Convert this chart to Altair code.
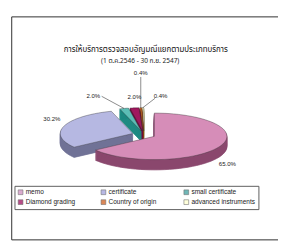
import altair as alt
import pandas as pd

# ---- data ----
categories = ["memo", "certificate", "small certificate", "Diamond grading",
              "Country of origin", "advanced instruments"]
shares = [65.0, 30.2, 2.0, 2.0, 0.4, 0.4]
label_texts = ["65.0%", "30.2%", "2.0%", "2.0%", "0.4%", "0.4%"]
title_text = "การให้บริการตรวจสอบอัญมณีแยกตามประเภทบริการ"
subtitle_text = "(1 ต.ค.2546 - 30 ก.ย. 2547)"

# ---- styles ----
top_colors = ["#D68DB8", "#B6B8E2", "#5CBDB5", "#A0185E", "#C9641E", "#F5F2C4"]
side_colors = ["#8A476D", "#707296", "#1F8A82", "#6C0E3E", "#8A4010", "#B8B48A"]
legend_colors = ["#CC88BB", "#9B9BDA", "#339999", "#990055", "#CC5511", "#FFFFCC"]

# ---- layout (page pixel coordinates) ----
W, H = 290, 244
CX, CY = 154, 135        # pie centre
RX, RY = 78, 25          # ellipse radii of top face
DEPTH = 11               # extrusion depth
EX = 12.5                # explode distance (x)
EY = EX * RY / RX
N = 60

label_nudge = {
    "memo": (9, 19),
    "certificate": (-13, -7),
    "small certificate": (-33, -13),
    "Diamond grading": (0, -12),
    "Country of origin": (0, -37),
    "advanced instruments": (19, -12),
}
leader_start = {
    "small certificate": (9, 0),
    "Country of origin": (0, 4),
    "advanced instruments": (-6, 2),
}

df = pd.DataFrame({
    "cat": categories,
    "value": shares,
    "idx": list(range(len(categories))),
    "txt": label_texts,
    "ndx": [label_nudge[c][0] for c in categories],
    "ndy": [label_nudge[c][1] for c in categories],
    "lsx": [leader_start.get(c, (0, 0))[0] for c in categories],
    "lsy": [leader_start.get(c, (0, 0))[1] for c in categories],
    "line": [c in leader_start for c in categories],
})

xs = alt.Scale(domain=[8, 8 + W], range=[0, W])
ys = alt.Scale(domain=[8, 8 + H], range=[0, H])


def geom(ch):
    return (ch.transform_joinaggregate(total="sum(value)")
            .transform_window(cum="sum(value)", sort=[alt.SortField("idx")], frame=[None, 0])
            .transform_calculate(a0="2*PI*(datum.cum-datum.value)/datum.total",
                                 a1="2*PI*datum.cum/datum.total")
            .transform_calculate(mid="(datum.a0+datum.a1)/2")
            .transform_calculate(ox=f"{CX}+{EX}*sin(datum.mid)",
                                 oy=f"{CY}-{EY}*cos(datum.mid)")
            .transform_calculate(ax=f"datum.ox+{RX}*sin(datum.mid)",
                                 ay=f"datum.oy-{RY}*cos(datum.mid)"))


def wedge(ch):
    return (ch.transform_calculate(step=f"sequence(0,{N + 3})")
            .transform_flatten(["step"])
            .transform_calculate(t=f"clamp(datum.step-1,0,{N})/{N}",
                                 edge=f"datum.step==0||datum.step=={N + 2}")
            .transform_calculate(ang="datum.a0+(datum.a1-datum.a0)*datum.t")
            .transform_calculate(px=f"datum.edge?datum.ox:datum.ox+{RX}*sin(datum.ang)",
                                 py=f"datum.edge?datum.oy:datum.oy-{RY}*cos(datum.ang)"))


frame = alt.Chart(pd.DataFrame({"k": [0]})).mark_rect(
    fill="white", stroke="#222", strokeWidth=1).encode(
    x=alt.value(4), x2=alt.value(W + 10), y=alt.value(0.5), y2=alt.value(240))

layers = [frame]
draw_order = [5, 4, 3, 2, 1, 0]  # back to front
for k in draw_order:
    cat = categories[k]
    base = wedge(geom(alt.Chart(df)).transform_filter(alt.datum.cat == cat))
    side = (base.transform_calculate(lev=f"sequence(1,{DEPTH + 1})")
            .transform_flatten(["lev"])
            .transform_calculate(sy="datum.py+datum.lev")
            .mark_line(fill=side_colors[k], stroke=side_colors[k], strokeWidth=0.8)
            .encode(x=alt.X("px:Q", scale=xs, axis=None),
                    y=alt.Y("sy:Q", scale=ys, axis=None),
                    order=alt.Order("step:Q"),
                    detail="lev:O"))
    top = (base.mark_line(fill=top_colors[k], stroke="#333", strokeWidth=0.4)
           .encode(x=alt.X("px:Q", scale=xs, axis=None),
                   y=alt.Y("py:Q", scale=ys, axis=None),
                   order=alt.Order("step:Q")))
    layers += [side, top]

# leader lines
leaders = (geom(alt.Chart(df)).transform_filter("datum.line")
           .transform_calculate(p="sequence(0,2)").transform_flatten(["p"])
           .transform_calculate(
               lx="datum.p==0?datum.ax+datum.ndx+datum.lsx:datum.ax",
               ly="datum.p==0?datum.ay+datum.ndy+datum.lsy:datum.ay")
           .mark_line(stroke="#333", strokeWidth=0.6)
           .encode(x=alt.X("lx:Q", scale=xs, axis=None),
                   y=alt.Y("ly:Q", scale=ys, axis=None),
                   order="p:Q", detail="cat:N"))

labels = (geom(alt.Chart(df))
          .transform_calculate(tx="datum.ax+datum.ndx", ty="datum.ay+datum.ndy")
          .mark_text(fontSize=6.5, font="Liberation Sans", color="#222", baseline="middle")
          .encode(x=alt.X("tx:Q", scale=xs, axis=None),
                  y=alt.Y("ty:Q", scale=ys, axis=None),
                  text="txt:N"))

thai_font = "Tahoma, 'Noto Sans Thai', 'Noto Sans', 'DejaVu Sans', sans-serif"
title = alt.Chart(pd.DataFrame({"t": [title_text]})).mark_text(
    fontSize=8.5, font=thai_font, color="#111").encode(
    text="t:N", x=alt.value(156 - 8), y=alt.value(43 - 8))
subtitle = alt.Chart(pd.DataFrame({"t": [subtitle_text]})).mark_text(
    fontSize=7, font=thai_font, color="#222").encode(
    text="t:N", x=alt.value(150 - 8), y=alt.value(56 - 8))

legend_layer = alt.Chart(df).mark_point(shape="square", filled=True, size=1).encode(
    x=alt.value(-20), y=alt.value(-20),
    color=alt.Color("cat:N", sort=categories,
                    scale=alt.Scale(domain=categories, range=legend_colors),
                    legend=alt.Legend(title=None, orient="none", legendX=7, legendY=182,
                                      direction="horizontal", columns=3, gridAlign="all",
                                      symbolType="square", symbolSize=26,
                                      symbolStrokeColor="#333", symbolStrokeWidth=0.6,
                                      labelFontSize=7, labelFont="Liberation Sans",
                                      labelColor="#222", labelOffset=2,
                                      columnPadding=10, rowPadding=2, padding=3,
                                      strokeColor="#555", fillColor="white")))

layers += [leaders, labels, title, subtitle, legend_layer]

chart = alt.layer(*layers).properties(
    width=W, height=H, autosize=alt.AutoSizeParams(type="none"), padding=0
).configure_view(stroke=None)

chart.save("out.html", embed_options={"renderer": "svg", "actions": False})
